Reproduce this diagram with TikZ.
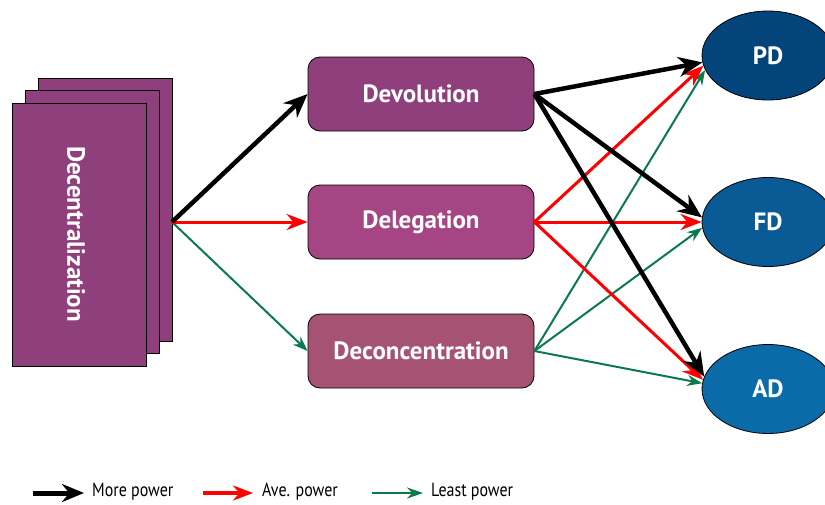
\documentclass[tikz,border=0pt]{standalone}
\usepackage{fontspec}
\setmainfont{PT Sans}
\newfontfamily\legfont[FakeStretch=0.84]{PT Sans}
\usetikzlibrary{shapes.geometric,arrows.meta}
\definecolor{decC}{HTML}{8F3F7B}
\definecolor{devC}{HTML}{8F3F7B}
\definecolor{delC}{HTML}{A64583}
\definecolor{dcnC}{HTML}{A65273}
\definecolor{pdC}{HTML}{03457B}
\definecolor{fdC}{HTML}{0A5A96}
\definecolor{adC}{HTML}{0B6BA8}
\definecolor{grn}{HTML}{0A7A4C}
\tikzset{
  stack/.style={draw=black, line width=0.8pt, fill=decC, minimum width=134pt, minimum height=263pt, inner sep=0pt},
  box/.style={draw=black, line width=0.8pt, rounded corners=12pt, minimum width=226pt, minimum height=74pt, inner sep=0pt, text=white, font=\bfseries\fontsize{25}{30}\selectfont},
  oval/.style={ellipse, draw=black, line width=0.8pt, minimum width=132pt, minimum height=89pt, inner sep=0pt, text=white, font=\bfseries\fontsize{25}{30}\selectfont},
  more/.style={line width=4.5pt, -{Stealth[length=24pt, width=20pt]}, black},
  ave/.style={line width=3pt, red, -{Stealth[length=21pt, width=16pt]}},
  least/.style={line width=2pt, grn, -{Stealth[length=15pt, width=11pt]}},
  legtext/.style={anchor=west, font=\legfont\fontsize{19}{22}\selectfont, inner sep=0pt}
}
\begin{document}
\begin{tikzpicture}[x=1pt,y=-1pt]
\useasboundingbox (0,0) rectangle (825,504);
\clip (0,0) rectangle (825,504);
% stacked decentralization
\node[stack] (back) at (105,209.5) {};
\node[stack] (mid) at (92,222) {};
\node[stack] (front) at (79,234.5) {};
\node[text=white, font=\bfseries\fontsize{25}{30}\selectfont, rotate=-90] (declab) at (76,234) {Decentralization};
\coordinate (src) at (172,222);
% middle boxes
\node[box, fill=devC] (dev) at (421,94) {Devolution};
\node[box, fill=delC] (del) at (421,222) {Delegation};
\node[box, fill=dcnC] (dcn) at (421,351) {Deconcentration};
% ellipses
\node[oval, fill=pdC] (pd) at (768,55.5) {PD};
\node[oval, fill=fdC] (fd) at (768,222) {FD};
\node[oval, fill=adC] (ad) at (768,389) {AD};
% left arrows
\draw[least] (src) -- (dcn.west);
\draw[ave] (src) -- (del.west);
\draw[more] (src) -- (dev.west);
% right arrows
\draw[least] (dcn.east) -- (pd.193);
\draw[least] (dcn.east) -- (fd.185);
\draw[least] (dcn.east) -- (ad.175);
\draw[ave] (del.east) -- (pd.189);
\draw[ave] (del.east) -- (fd.west);
\draw[ave] (del.east) -- (ad.172);
\draw[more] (dev.east) -- (pd.186);
\draw[more] (dev.east) -- (fd.176);
\draw[more] (dev.east) -- (ad.169);
% legend
\coordinate (l1a) at (33,493); \coordinate (l1b) at (84,493);
\coordinate (l2a) at (203,493); \coordinate (l2b) at (253,493);
\coordinate (l3a) at (372,493); \coordinate (l3b) at (423,493);
\draw[line width=5pt, -{Stealth[length=22pt, width=18pt]}] (l1a) -- (l1b);
\draw[line width=4pt, red, -{Stealth[length=20pt, width=15pt]}] (l2a) -- (l2b);
\draw[line width=2.2pt, grn, -{Stealth[length=16pt, width=11pt]}] (l3a) -- (l3b);
\node[legtext] (t1) at (92,492) {More power};
\node[legtext] (t2) at (262,492) {Ave. power};
\node[legtext] (t3) at (431,492) {Least power};
\end{tikzpicture}
\end{document}
